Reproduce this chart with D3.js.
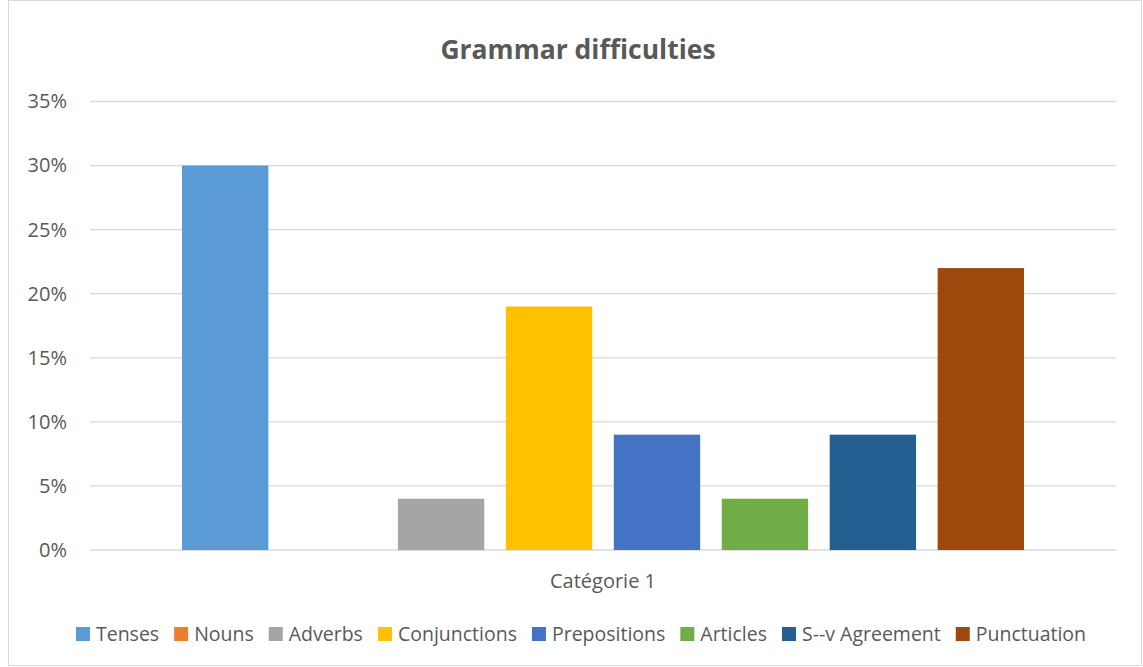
<!DOCTYPE html>
<html>
<head>
<meta charset="utf-8">
<script src="https://cdn.jsdelivr.net/npm/d3@7"></script>
<style>
  body { margin: 0; background: #fff; }
  text { font-family: "Open Sans", Lato, sans-serif; fill: #595959; }
</style>
</head>
<body>
<div class="container"></div>
<script>
const categories = ["Catégorie 1"];
const series = ["Tenses", "Nouns", "Adverbs", "Conjunctions", "Prepositions", "Articles", "S--v Agreement", "Punctuation"];
const values = [0.30, 0.00, 0.04, 0.19, 0.09, 0.04, 0.09, 0.22];
const colors = ["#5B9BD5", "#ED7D31", "#A5A5A5", "#FFC000", "#4472C4", "#70AD47", "#255E91", "#9E480E"];
const yTicks = [0, 0.05, 0.10, 0.15, 0.20, 0.25, 0.30, 0.35];

const width = 1143;
const height = 667;
const margin = {top: 101.5, right: 27, bottom: 117, left: 90};

const svg = d3.select(".container").append("svg").attr("width", width).attr("height", height);

// chart frame
svg.append("rect")
    .attr("x", 8.5).attr("y", 0.5)
    .attr("width", width - 10).attr("height", height - 2)
    .attr("fill", "#fff").attr("stroke", "#d9d9d9");

const x0 = d3.scaleBand().domain(categories)
    .range([margin.left, width - margin.right]);

const x1 = d3.scaleBand().domain(series)
    .range([x0(categories[0]) + 92, x0(categories[0]) + x0.bandwidth() - 92])
    .paddingInner(0.2).paddingOuter(0);

const y = d3.scaleLinear().domain([0, 0.35]).range([height - margin.bottom, margin.top]);

// gridlines
svg.append("g")
  .selectAll("line")
  .data(yTicks)
  .enter().append("line")
    .attr("x1", margin.left).attr("x2", width - margin.right)
    .attr("y1", d => y(d)).attr("y2", d => y(d))
    .attr("stroke", "#d9d9d9").attr("stroke-width", 1.3);

// y labels
const yAxis = d3.axisLeft(y).tickValues(yTicks).tickFormat(d3.format(".0%")).tickSize(0).tickPadding(23);
svg.append("g")
    .attr("transform", `translate(${margin.left},0)`)
    .call(yAxis)
    .call(g => g.select(".domain").remove())
    .selectAll("text")
      .style("font-size", "20px")
      .style("font-family", "'Open Sans', sans-serif")
      .attr("fill", "#595959");

// bars
svg.append("g")
  .selectAll("rect")
  .data(series.map((s, i) => ({name: s, value: values[i], color: colors[i]})))
  .enter().append("rect")
    .attr("x", d => x1(d.name))
    .attr("width", x1.bandwidth())
    .attr("y", d => y(d.value))
    .attr("height", d => y(0) - y(d.value))
    .attr("fill", d => d.color);

// category label
svg.append("text")
    .attr("x", x0(categories[0]) + x0.bandwidth() / 2)
    .attr("y", 588)
    .attr("text-anchor", "middle")
    .style("font-size", "20px")
    .text(categories[0]);

// title
svg.append("text")
    .attr("x", 578).attr("y", 59)
    .attr("text-anchor", "middle")
    .style("font-size", "26.5px").style("font-weight", "bold")
    .text("Grammar difficulties");

// legend
const legend = svg.append("g");
const items = legend.selectAll("g")
  .data(series)
  .enter().append("g");
items.append("rect")
    .attr("width", 14).attr("height", 14)
    .attr("y", 627)
    .attr("fill", (d, i) => colors[i]);
items.append("text")
    .attr("x", 20).attr("y", 641)
    .style("font-size", "19.5px")
    .text(d => d);

let offset = 0;
items.each(function() {
  const w = d3.select(this).select("text").node().getComputedTextLength();
  d3.select(this).attr("transform", `translate(${offset},0)`);
  offset += 20 + w + 15;
});
const total = offset - 15;
legend.attr("transform", `translate(${581 - total / 2},0)`);
</script>
</body>
</html>
